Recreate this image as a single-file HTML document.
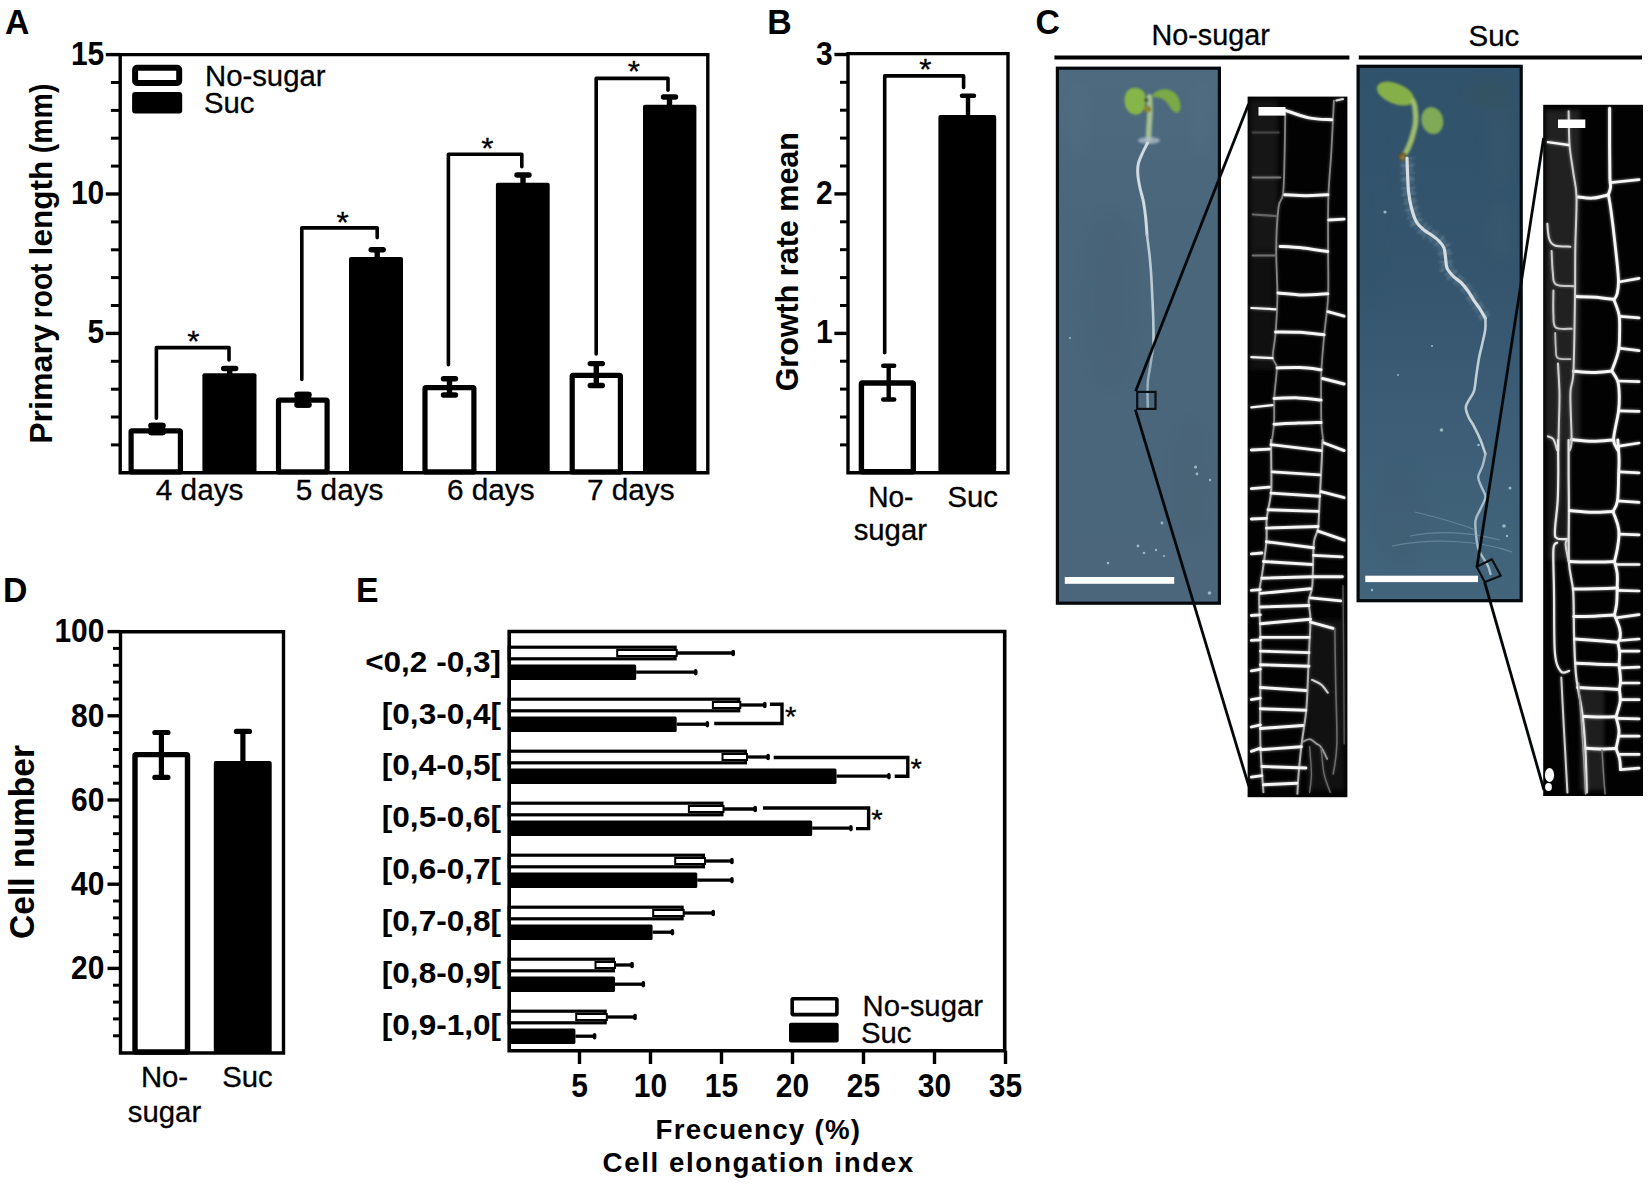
<!DOCTYPE html>
<html lang="en"><head><meta charset="utf-8"><title>Figure</title>
<style>html,body{margin:0;padding:0;background:#fff}svg{display:block}text{font-family:'Liberation Sans', Arial, Helvetica, sans-serif;fill:#000}text.r{stroke:#000;stroke-width:0.3px}</style>
</head><body>
<svg width="1650" height="1185" viewBox="0 0 1650 1185">
<defs>
<filter id="soft" x="-5%" y="-5%" width="110%" height="110%"><feGaussianBlur stdDeviation="0.55"/></filter>
<filter id="soft2" x="-10%" y="-10%" width="120%" height="120%"><feGaussianBlur stdDeviation="1.3"/></filter>
<filter id="soft3" x="-20%" y="-20%" width="140%" height="140%"><feGaussianBlur stdDeviation="2.2"/></filter>
<filter id="glow" x="-20%" y="-5%" width="140%" height="110%"><feGaussianBlur stdDeviation="1.6"/></filter>
<filter id="soft6" x="-30%" y="-30%" width="160%" height="160%"><feGaussianBlur stdDeviation="6"/></filter>
<linearGradient id="bg1" x1="0" y1="0" x2="0" y2="1"><stop offset="0" stop-color="#4d6a7f"/><stop offset="0.3" stop-color="#4a667b"/><stop offset="1" stop-color="#4b667a"/></linearGradient>
<linearGradient id="bg2" x1="0" y1="0" x2="0" y2="1"><stop offset="0" stop-color="#31526b"/><stop offset="0.4" stop-color="#34556d"/><stop offset="0.65" stop-color="#3c5d75"/><stop offset="1" stop-color="#43657c"/></linearGradient>
<clipPath id="cp1"><rect x="1057" y="68" width="163" height="535"/></clipPath>
<clipPath id="cp2"><rect x="1358" y="66" width="164" height="535"/></clipPath>
<clipPath id="cm1"><rect x="1248" y="97" width="99" height="700"/></clipPath>
<clipPath id="cm2"><rect x="1543.5" y="105" width="99.5" height="691"/></clipPath>
</defs>
<rect x="0" y="0" width="1650" height="1185" fill="#fff"/>
<text transform="translate(5.0,33.8) scale(0.95,1)" font-size="35.6" font-weight="bold">A</text>
<text transform="translate(767.3,33.8) scale(0.95,1)" font-size="35.6" font-weight="bold">B</text>
<text transform="translate(1035.4,33.8) scale(0.95,1)" font-size="35.6" font-weight="bold">C</text>
<text transform="translate(3,602) scale(0.95,1)" font-size="35.6" font-weight="bold">D</text>
<text transform="translate(355.9,602) scale(0.95,1)" font-size="35.6" font-weight="bold">E</text>
<g id="panelA">
<rect x="131.1" y="430.8" width="49.3" height="41.1" fill="#fff" stroke="#000" stroke-width="5.2" rx="1"/>
<rect x="202.4" y="373.3" width="54.1" height="99.5" fill="#000" rx="2"/>
<rect x="278.5" y="400.1" width="48.6" height="71.8" fill="#fff" stroke="#000" stroke-width="5.2" rx="1"/>
<rect x="349.0" y="257.0" width="54.0" height="215.8" fill="#000" rx="2"/>
<rect x="425.0" y="387.6" width="48.9" height="84.3" fill="#fff" stroke="#000" stroke-width="5.2" rx="1"/>
<rect x="495.9" y="182.8" width="53.8" height="290.0" fill="#000" rx="2"/>
<rect x="572.2" y="375.3" width="48.2" height="96.6" fill="#fff" stroke="#000" stroke-width="5.2" rx="1"/>
<rect x="643.0" y="104.8" width="53.4" height="368.0" fill="#000" rx="2"/>
<line x1="157.0" y1="425.5" x2="157.0" y2="432.5" stroke="#000" stroke-width="5.4" stroke-linecap="butt"/>
<line x1="151.0" y1="425.5" x2="163.0" y2="425.5" stroke="#000" stroke-width="5.4" stroke-linecap="round"/>
<line x1="151.0" y1="432.5" x2="163.0" y2="432.5" stroke="#000" stroke-width="5.4" stroke-linecap="round"/>
<rect x="148.7" y="422.8" width="16.6" height="12.4" fill="#000" rx="3"/>
<line x1="229.7" y1="368.5" x2="229.7" y2="376.0" stroke="#000" stroke-width="5.4" stroke-linecap="butt"/>
<line x1="223.7" y1="368.5" x2="235.7" y2="368.5" stroke="#000" stroke-width="5.4" stroke-linecap="round"/>
<line x1="303.0" y1="394.5" x2="303.0" y2="405.0" stroke="#000" stroke-width="5.4" stroke-linecap="butt"/>
<line x1="297.0" y1="394.5" x2="309.0" y2="394.5" stroke="#000" stroke-width="5.4" stroke-linecap="round"/>
<line x1="297.0" y1="405.0" x2="309.0" y2="405.0" stroke="#000" stroke-width="5.4" stroke-linecap="round"/>
<rect x="294.7" y="391.8" width="16.6" height="15.9" fill="#000" rx="3.5"/>
<line x1="377.2" y1="249.7" x2="377.2" y2="259.0" stroke="#000" stroke-width="5.4" stroke-linecap="butt"/>
<line x1="371.2" y1="249.7" x2="383.2" y2="249.7" stroke="#000" stroke-width="5.4" stroke-linecap="round"/>
<line x1="449.5" y1="378.7" x2="449.5" y2="395.0" stroke="#000" stroke-width="5.4" stroke-linecap="butt"/>
<line x1="443.5" y1="378.7" x2="455.5" y2="378.7" stroke="#000" stroke-width="5.4" stroke-linecap="round"/>
<line x1="443.5" y1="395.0" x2="455.5" y2="395.0" stroke="#000" stroke-width="5.4" stroke-linecap="round"/>
<line x1="523.0" y1="175.0" x2="523.0" y2="184.0" stroke="#000" stroke-width="5.4" stroke-linecap="butt"/>
<line x1="517.0" y1="175.0" x2="529.0" y2="175.0" stroke="#000" stroke-width="5.4" stroke-linecap="round"/>
<line x1="596.3" y1="363.6" x2="596.3" y2="385.5" stroke="#000" stroke-width="5.4" stroke-linecap="butt"/>
<line x1="590.3" y1="363.6" x2="602.3" y2="363.6" stroke="#000" stroke-width="5.4" stroke-linecap="round"/>
<line x1="590.3" y1="385.5" x2="602.3" y2="385.5" stroke="#000" stroke-width="5.4" stroke-linecap="round"/>
<line x1="669.5" y1="97.0" x2="669.5" y2="107.0" stroke="#000" stroke-width="5.4" stroke-linecap="butt"/>
<line x1="663.5" y1="97.0" x2="675.5" y2="97.0" stroke="#000" stroke-width="5.4" stroke-linecap="round"/>
<path d="M120.2,54.6 H707.8 V472.8 H120.2 Z" fill="none" stroke="#000" stroke-width="3.4" stroke-linejoin="miter"/>
<line x1="110.9" y1="444.9" x2="120.2" y2="444.9" stroke="#000" stroke-width="3.0" stroke-linecap="butt"/>
<line x1="110.9" y1="417.0" x2="120.2" y2="417.0" stroke="#000" stroke-width="3.0" stroke-linecap="butt"/>
<line x1="110.9" y1="389.2" x2="120.2" y2="389.2" stroke="#000" stroke-width="3.0" stroke-linecap="butt"/>
<line x1="110.9" y1="361.3" x2="120.2" y2="361.3" stroke="#000" stroke-width="3.0" stroke-linecap="butt"/>
<line x1="105.8" y1="333.4" x2="120.2" y2="333.4" stroke="#000" stroke-width="3.4" stroke-linecap="butt"/>
<line x1="110.9" y1="305.5" x2="120.2" y2="305.5" stroke="#000" stroke-width="3.0" stroke-linecap="butt"/>
<line x1="110.9" y1="277.6" x2="120.2" y2="277.6" stroke="#000" stroke-width="3.0" stroke-linecap="butt"/>
<line x1="110.9" y1="249.8" x2="120.2" y2="249.8" stroke="#000" stroke-width="3.0" stroke-linecap="butt"/>
<line x1="110.9" y1="221.9" x2="120.2" y2="221.9" stroke="#000" stroke-width="3.0" stroke-linecap="butt"/>
<line x1="105.8" y1="194.0" x2="120.2" y2="194.0" stroke="#000" stroke-width="3.4" stroke-linecap="butt"/>
<line x1="110.9" y1="166.1" x2="120.2" y2="166.1" stroke="#000" stroke-width="3.0" stroke-linecap="butt"/>
<line x1="110.9" y1="138.2" x2="120.2" y2="138.2" stroke="#000" stroke-width="3.0" stroke-linecap="butt"/>
<line x1="110.9" y1="110.4" x2="120.2" y2="110.4" stroke="#000" stroke-width="3.0" stroke-linecap="butt"/>
<line x1="110.9" y1="82.5" x2="120.2" y2="82.5" stroke="#000" stroke-width="3.0" stroke-linecap="butt"/>
<line x1="105.8" y1="54.6" x2="120.2" y2="54.6" stroke="#000" stroke-width="3.4" stroke-linecap="butt"/>
<text transform="translate(104.2,64.6) scale(0.924,1)" font-size="32.4" text-anchor="end" font-weight="bold">15</text>
<text transform="translate(104.2,204.0) scale(0.924,1)" font-size="32.4" text-anchor="end" font-weight="bold">10</text>
<text transform="translate(104.2,343.4) scale(0.924,1)" font-size="32.4" text-anchor="end" font-weight="bold">5</text>
<path d="M156.4,418.2 V347.6 H229.0 V360.0" fill="none" stroke="#000" stroke-width="3.6" stroke-linejoin="round" stroke-linecap="round"/>
<path d="M301.8,379.4 V227.9 H377.2 V237.6" fill="none" stroke="#000" stroke-width="3.6" stroke-linejoin="round" stroke-linecap="round"/>
<path d="M448.4,364.8 V154.2 H521.8 V166.7" fill="none" stroke="#000" stroke-width="3.6" stroke-linejoin="round" stroke-linecap="round"/>
<path d="M596.2,354.0 V78.4 H668.0 V90.3" fill="none" stroke="#000" stroke-width="3.6" stroke-linejoin="round" stroke-linecap="round"/>
<text transform="translate(193.4,351.0) scale(1.05,1)" font-size="30" text-anchor="middle" class="r">*</text>
<text transform="translate(342.7,231.5) scale(1.05,1)" font-size="30" text-anchor="middle" class="r">*</text>
<text transform="translate(487.3,158.0) scale(1.05,1)" font-size="30" text-anchor="middle" class="r">*</text>
<text transform="translate(633.9,81.0) scale(1.05,1)" font-size="30" text-anchor="middle" class="r">*</text>
<rect x="135.1" y="67.8" width="44.1" height="15.2" fill="#fff" stroke="#000" stroke-width="6" rx="2"/>
<rect x="132.1" y="91.9" width="50.1" height="21.6" fill="#000" rx="3"/>
<text transform="translate(205.0,85.9) scale(0.99,1)" font-size="29.6" text-anchor="start" class="r">No-sugar</text>
<text transform="translate(204.0,113.0) scale(0.99,1)" font-size="29.6" text-anchor="start" class="r">Suc</text>
<text transform="translate(199.6,499.6) scale(1.005,1)" font-size="29.6" text-anchor="middle" class="r">4 days</text>
<text transform="translate(339.6,499.6) scale(1.005,1)" font-size="29.6" text-anchor="middle" class="r">5 days</text>
<text transform="translate(490.8,499.6) scale(1.005,1)" font-size="29.6" text-anchor="middle" class="r">6 days</text>
<text transform="translate(630.8,499.6) scale(1.005,1)" font-size="29.6" text-anchor="middle" class="r">7 days</text>
<text transform="translate(52.3,443.8) scale(1.06,1) rotate(-90)" font-size="30.2" font-weight="bold" textLength="119.6" lengthAdjust="spacingAndGlyphs">Primary</text>
<text transform="translate(52.3,318.2) scale(1.06,1) rotate(-90)" font-size="30.2" font-weight="bold" textLength="54.7" lengthAdjust="spacingAndGlyphs">root</text>
<text transform="translate(52.3,255.4) scale(1.06,1) rotate(-90)" font-size="30.2" font-weight="bold" textLength="94.8" lengthAdjust="spacingAndGlyphs">length</text>
<text transform="translate(52.3,153.2) scale(1.06,1) rotate(-90)" font-size="30.2" font-weight="bold" textLength="69.6" lengthAdjust="spacingAndGlyphs">(mm)</text>
</g>
<g id="panelB">
<rect x="861.4" y="383.0" width="51.9" height="88.8" fill="#fff" stroke="#000" stroke-width="5.4" rx="1"/>
<rect x="938.4" y="115.0" width="57.8" height="357.8" fill="#000" rx="2"/>
<line x1="888.7" y1="365.7" x2="888.7" y2="399.5" stroke="#000" stroke-width="4.4" stroke-linecap="butt"/>
<line x1="883.2" y1="365.7" x2="894.2" y2="365.7" stroke="#000" stroke-width="4.4" stroke-linecap="round"/>
<line x1="883.2" y1="399.5" x2="894.2" y2="399.5" stroke="#000" stroke-width="4.4" stroke-linecap="round"/>
<line x1="968.0" y1="95.7" x2="968.0" y2="117.0" stroke="#000" stroke-width="4.4" stroke-linecap="butt"/>
<line x1="962.0" y1="95.7" x2="974.0" y2="95.7" stroke="#000" stroke-width="4.4" stroke-linecap="round"/>
<path d="M848.0,53.6 H1008.0 V472.8 H848.0 Z" fill="none" stroke="#000" stroke-width="3.4"/>
<line x1="840.0" y1="444.9" x2="848.0" y2="444.9" stroke="#000" stroke-width="3.0" stroke-linecap="butt"/>
<line x1="840.0" y1="417.0" x2="848.0" y2="417.0" stroke="#000" stroke-width="3.0" stroke-linecap="butt"/>
<line x1="840.0" y1="389.1" x2="848.0" y2="389.1" stroke="#000" stroke-width="3.0" stroke-linecap="butt"/>
<line x1="840.0" y1="361.2" x2="848.0" y2="361.2" stroke="#000" stroke-width="3.0" stroke-linecap="butt"/>
<line x1="834.4" y1="333.4" x2="848.0" y2="333.4" stroke="#000" stroke-width="3.4" stroke-linecap="butt"/>
<line x1="840.0" y1="305.5" x2="848.0" y2="305.5" stroke="#000" stroke-width="3.0" stroke-linecap="butt"/>
<line x1="840.0" y1="277.6" x2="848.0" y2="277.6" stroke="#000" stroke-width="3.0" stroke-linecap="butt"/>
<line x1="840.0" y1="249.7" x2="848.0" y2="249.7" stroke="#000" stroke-width="3.0" stroke-linecap="butt"/>
<line x1="840.0" y1="221.8" x2="848.0" y2="221.8" stroke="#000" stroke-width="3.0" stroke-linecap="butt"/>
<line x1="834.4" y1="193.9" x2="848.0" y2="193.9" stroke="#000" stroke-width="3.4" stroke-linecap="butt"/>
<line x1="840.0" y1="166.0" x2="848.0" y2="166.0" stroke="#000" stroke-width="3.0" stroke-linecap="butt"/>
<line x1="840.0" y1="138.1" x2="848.0" y2="138.1" stroke="#000" stroke-width="3.0" stroke-linecap="butt"/>
<line x1="840.0" y1="110.2" x2="848.0" y2="110.2" stroke="#000" stroke-width="3.0" stroke-linecap="butt"/>
<line x1="840.0" y1="82.3" x2="848.0" y2="82.3" stroke="#000" stroke-width="3.0" stroke-linecap="butt"/>
<line x1="834.4" y1="54.5" x2="848.0" y2="54.5" stroke="#000" stroke-width="3.4" stroke-linecap="butt"/>
<text transform="translate(832.7,64.5) scale(0.924,1)" font-size="32.4" text-anchor="end" font-weight="bold">3</text>
<text transform="translate(832.7,203.9) scale(0.924,1)" font-size="32.4" text-anchor="end" font-weight="bold">2</text>
<text transform="translate(832.7,343.4) scale(0.924,1)" font-size="32.4" text-anchor="end" font-weight="bold">1</text>
<path d="M884.7,352.7 V75.9 H963.6 V87.4" fill="none" stroke="#000" stroke-width="3.6" stroke-linejoin="round" stroke-linecap="round"/>
<text transform="translate(925.4,78.5) scale(1.05,1)" font-size="30" text-anchor="middle" class="r">*</text>
<text transform="translate(890.8,507.0) scale(0.95,1)" font-size="29.6" text-anchor="middle" class="r">No-</text>
<text transform="translate(890.3,540.3) scale(0.99,1)" font-size="29.6" text-anchor="middle" class="r">sugar</text>
<text transform="translate(972.7,507.0) scale(0.99,1)" font-size="29.6" text-anchor="middle" class="r">Suc</text>
<text transform="translate(797.6,261.7) scale(1.0,1) rotate(-90)" font-size="30.5" text-anchor="middle" font-weight="bold">Growth rate mean</text>
</g>
<g id="panelD">
<rect x="135.0" y="754.6" width="52.5" height="297.4" fill="#fff" stroke="#000" stroke-width="5.4" rx="1"/>
<rect x="213.8" y="760.9" width="57.9" height="292.1" fill="#000" rx="2"/>
<line x1="161.4" y1="732.5" x2="161.4" y2="777.4" stroke="#000" stroke-width="5.2" stroke-linecap="butt"/>
<line x1="154.9" y1="732.5" x2="167.9" y2="732.5" stroke="#000" stroke-width="5.2" stroke-linecap="round"/>
<line x1="154.9" y1="777.4" x2="167.9" y2="777.4" stroke="#000" stroke-width="5.2" stroke-linecap="round"/>
<line x1="242.9" y1="731.4" x2="242.9" y2="763.0" stroke="#000" stroke-width="5.2" stroke-linecap="butt"/>
<line x1="236.4" y1="731.4" x2="249.4" y2="731.4" stroke="#000" stroke-width="5.2" stroke-linecap="round"/>
<path d="M120.5,631.8 H283.5 V1053.0 H120.5 Z" fill="none" stroke="#000" stroke-width="3.4"/>
<line x1="113.0" y1="1035.8" x2="120.5" y2="1035.8" stroke="#000" stroke-width="3.0" stroke-linecap="butt"/>
<line x1="113.0" y1="1018.9" x2="120.5" y2="1018.9" stroke="#000" stroke-width="3.0" stroke-linecap="butt"/>
<line x1="113.0" y1="1002.1" x2="120.5" y2="1002.1" stroke="#000" stroke-width="3.0" stroke-linecap="butt"/>
<line x1="113.0" y1="985.2" x2="120.5" y2="985.2" stroke="#000" stroke-width="3.0" stroke-linecap="butt"/>
<line x1="107.5" y1="968.4" x2="120.5" y2="968.4" stroke="#000" stroke-width="3.4" stroke-linecap="butt"/>
<line x1="113.0" y1="951.6" x2="120.5" y2="951.6" stroke="#000" stroke-width="3.0" stroke-linecap="butt"/>
<line x1="113.0" y1="934.7" x2="120.5" y2="934.7" stroke="#000" stroke-width="3.0" stroke-linecap="butt"/>
<line x1="113.0" y1="917.9" x2="120.5" y2="917.9" stroke="#000" stroke-width="3.0" stroke-linecap="butt"/>
<line x1="113.0" y1="901.0" x2="120.5" y2="901.0" stroke="#000" stroke-width="3.0" stroke-linecap="butt"/>
<line x1="107.5" y1="884.2" x2="120.5" y2="884.2" stroke="#000" stroke-width="3.4" stroke-linecap="butt"/>
<line x1="113.0" y1="867.4" x2="120.5" y2="867.4" stroke="#000" stroke-width="3.0" stroke-linecap="butt"/>
<line x1="113.0" y1="850.5" x2="120.5" y2="850.5" stroke="#000" stroke-width="3.0" stroke-linecap="butt"/>
<line x1="113.0" y1="833.7" x2="120.5" y2="833.7" stroke="#000" stroke-width="3.0" stroke-linecap="butt"/>
<line x1="113.0" y1="816.8" x2="120.5" y2="816.8" stroke="#000" stroke-width="3.0" stroke-linecap="butt"/>
<line x1="107.5" y1="800.0" x2="120.5" y2="800.0" stroke="#000" stroke-width="3.4" stroke-linecap="butt"/>
<line x1="113.0" y1="783.2" x2="120.5" y2="783.2" stroke="#000" stroke-width="3.0" stroke-linecap="butt"/>
<line x1="113.0" y1="766.3" x2="120.5" y2="766.3" stroke="#000" stroke-width="3.0" stroke-linecap="butt"/>
<line x1="113.0" y1="749.5" x2="120.5" y2="749.5" stroke="#000" stroke-width="3.0" stroke-linecap="butt"/>
<line x1="113.0" y1="732.6" x2="120.5" y2="732.6" stroke="#000" stroke-width="3.0" stroke-linecap="butt"/>
<line x1="107.5" y1="715.8" x2="120.5" y2="715.8" stroke="#000" stroke-width="3.4" stroke-linecap="butt"/>
<line x1="113.0" y1="699.0" x2="120.5" y2="699.0" stroke="#000" stroke-width="3.0" stroke-linecap="butt"/>
<line x1="113.0" y1="682.1" x2="120.5" y2="682.1" stroke="#000" stroke-width="3.0" stroke-linecap="butt"/>
<line x1="113.0" y1="665.3" x2="120.5" y2="665.3" stroke="#000" stroke-width="3.0" stroke-linecap="butt"/>
<line x1="113.0" y1="648.4" x2="120.5" y2="648.4" stroke="#000" stroke-width="3.0" stroke-linecap="butt"/>
<line x1="107.5" y1="631.6" x2="120.5" y2="631.6" stroke="#000" stroke-width="3.4" stroke-linecap="butt"/>
<text transform="translate(104.4,642.4) scale(0.924,1)" font-size="32.4" text-anchor="end" font-weight="bold">100</text>
<text transform="translate(104.4,726.6) scale(0.924,1)" font-size="32.4" text-anchor="end" font-weight="bold">80</text>
<text transform="translate(104.4,810.8) scale(0.924,1)" font-size="32.4" text-anchor="end" font-weight="bold">60</text>
<text transform="translate(104.4,895.0) scale(0.924,1)" font-size="32.4" text-anchor="end" font-weight="bold">40</text>
<text transform="translate(104.4,979.2) scale(0.924,1)" font-size="32.4" text-anchor="end" font-weight="bold">20</text>
<text transform="translate(164.5,1087.4) scale(0.99,1)" font-size="29.6" text-anchor="middle" class="r">No-</text>
<text transform="translate(164.5,1122.0) scale(0.99,1)" font-size="29.6" text-anchor="middle" class="r">sugar</text>
<text transform="translate(247.5,1087.4) scale(0.99,1)" font-size="29.6" text-anchor="middle" class="r">Suc</text>
<text transform="translate(34.4,842.0) scale(1.06,1) rotate(-90)" font-size="33.6" text-anchor="middle" font-weight="bold">Cell number</text>
</g>
<g id="panelE">
<rect x="509.2" y="647.2" width="165.9" height="11.6" fill="#fff" stroke="#000" stroke-width="3.2"/>
<rect x="617.2" y="650.0" width="59.5" height="6.0" fill="#fff" stroke="#000" stroke-width="2.0"/>
<line x1="676.7" y1="653.0" x2="733.2" y2="653.0" stroke="#000" stroke-width="3.3" stroke-linecap="butt"/>
<line x1="733.2" y1="651.6" x2="733.2" y2="654.4" stroke="#000" stroke-width="3.6" stroke-linecap="round"/>
<rect x="509.2" y="664.4" width="127.0" height="15.7" fill="#000" rx="1.5"/>
<line x1="636.2" y1="672.2" x2="695.7" y2="672.2" stroke="#000" stroke-width="3.3" stroke-linecap="butt"/>
<line x1="695.7" y1="670.9" x2="695.7" y2="673.6" stroke="#000" stroke-width="3.6" stroke-linecap="round"/>
<text transform="translate(501.0,671.5) scale(1.103,1)" font-size="28.6" text-anchor="end" font-weight="bold">&lt;0,2 -0,3]</text>
<rect x="509.2" y="699.2" width="229.5" height="11.6" fill="#fff" stroke="#000" stroke-width="3.2"/>
<rect x="712.9" y="702.0" width="27.4" height="6.0" fill="#fff" stroke="#000" stroke-width="2.0"/>
<line x1="740.3" y1="705.0" x2="764.8" y2="705.0" stroke="#000" stroke-width="3.3" stroke-linecap="butt"/>
<line x1="764.8" y1="703.6" x2="764.8" y2="706.4" stroke="#000" stroke-width="3.6" stroke-linecap="round"/>
<rect x="509.2" y="716.4" width="167.5" height="15.7" fill="#000" rx="1.5"/>
<line x1="676.7" y1="724.2" x2="707.3" y2="724.2" stroke="#000" stroke-width="3.3" stroke-linecap="butt"/>
<line x1="707.3" y1="722.9" x2="707.3" y2="725.6" stroke="#000" stroke-width="3.6" stroke-linecap="round"/>
<text transform="translate(501.0,723.5) scale(1.103,1)" font-size="28.6" text-anchor="end" font-weight="bold">[0,3-0,4[</text>
<rect x="509.2" y="751.2" width="236.2" height="11.6" fill="#fff" stroke="#000" stroke-width="3.2"/>
<rect x="722.5" y="754.0" width="24.5" height="6.0" fill="#fff" stroke="#000" stroke-width="2.0"/>
<line x1="747.0" y1="757.0" x2="768.1" y2="757.0" stroke="#000" stroke-width="3.3" stroke-linecap="butt"/>
<line x1="768.1" y1="755.6" x2="768.1" y2="758.4" stroke="#000" stroke-width="3.6" stroke-linecap="round"/>
<rect x="509.2" y="768.4" width="327.3" height="15.7" fill="#000" rx="1.5"/>
<line x1="836.5" y1="776.2" x2="888.9" y2="776.2" stroke="#000" stroke-width="3.3" stroke-linecap="butt"/>
<line x1="888.9" y1="774.9" x2="888.9" y2="777.6" stroke="#000" stroke-width="3.6" stroke-linecap="round"/>
<text transform="translate(501.0,775.4) scale(1.103,1)" font-size="28.6" text-anchor="end" font-weight="bold">[0,4-0,5[</text>
<rect x="509.2" y="803.2" width="212.7" height="11.6" fill="#fff" stroke="#000" stroke-width="3.2"/>
<rect x="688.9" y="806.0" width="34.6" height="6.0" fill="#fff" stroke="#000" stroke-width="2.0"/>
<line x1="723.5" y1="809.0" x2="755.2" y2="809.0" stroke="#000" stroke-width="3.3" stroke-linecap="butt"/>
<line x1="755.2" y1="807.6" x2="755.2" y2="810.4" stroke="#000" stroke-width="3.6" stroke-linecap="round"/>
<rect x="509.2" y="820.4" width="303.0" height="15.7" fill="#000" rx="1.5"/>
<line x1="812.2" y1="828.2" x2="850.9" y2="828.2" stroke="#000" stroke-width="3.3" stroke-linecap="butt"/>
<line x1="850.9" y1="826.9" x2="850.9" y2="829.6" stroke="#000" stroke-width="3.6" stroke-linecap="round"/>
<text transform="translate(501.0,827.4) scale(1.103,1)" font-size="28.6" text-anchor="end" font-weight="bold">[0,5-0,6[</text>
<rect x="509.2" y="855.2" width="194.2" height="11.6" fill="#fff" stroke="#000" stroke-width="3.2"/>
<rect x="675.2" y="858.0" width="29.8" height="6.0" fill="#fff" stroke="#000" stroke-width="2.0"/>
<line x1="705.0" y1="861.0" x2="731.9" y2="861.0" stroke="#000" stroke-width="3.3" stroke-linecap="butt"/>
<line x1="731.9" y1="859.6" x2="731.9" y2="862.4" stroke="#000" stroke-width="3.6" stroke-linecap="round"/>
<rect x="509.2" y="872.4" width="188.1" height="15.7" fill="#000" rx="1.5"/>
<line x1="697.3" y1="880.2" x2="731.9" y2="880.2" stroke="#000" stroke-width="3.3" stroke-linecap="butt"/>
<line x1="731.9" y1="878.9" x2="731.9" y2="881.6" stroke="#000" stroke-width="3.6" stroke-linecap="round"/>
<text transform="translate(501.0,879.3) scale(1.103,1)" font-size="28.6" text-anchor="end" font-weight="bold">[0,6-0,7[</text>
<rect x="509.2" y="907.2" width="172.9" height="11.6" fill="#fff" stroke="#000" stroke-width="3.2"/>
<rect x="653.2" y="910.0" width="30.5" height="6.0" fill="#fff" stroke="#000" stroke-width="2.0"/>
<line x1="683.7" y1="913.0" x2="713.2" y2="913.0" stroke="#000" stroke-width="3.3" stroke-linecap="butt"/>
<line x1="713.2" y1="911.6" x2="713.2" y2="914.4" stroke="#000" stroke-width="3.6" stroke-linecap="round"/>
<rect x="509.2" y="924.4" width="143.4" height="15.7" fill="#000" rx="1.5"/>
<line x1="652.6" y1="932.2" x2="672.4" y2="932.2" stroke="#000" stroke-width="3.3" stroke-linecap="butt"/>
<line x1="672.4" y1="930.9" x2="672.4" y2="933.6" stroke="#000" stroke-width="3.6" stroke-linecap="round"/>
<text transform="translate(501.0,931.2) scale(1.103,1)" font-size="28.6" text-anchor="end" font-weight="bold">[0,7-0,8[</text>
<rect x="509.2" y="959.2" width="104.2" height="11.6" fill="#fff" stroke="#000" stroke-width="3.2"/>
<rect x="595.5" y="962.0" width="19.5" height="6.0" fill="#fff" stroke="#000" stroke-width="2.0"/>
<line x1="615.0" y1="965.0" x2="632.0" y2="965.0" stroke="#000" stroke-width="3.3" stroke-linecap="butt"/>
<line x1="632.0" y1="963.6" x2="632.0" y2="966.4" stroke="#000" stroke-width="3.6" stroke-linecap="round"/>
<rect x="509.2" y="976.4" width="105.8" height="15.7" fill="#000" rx="1.5"/>
<line x1="615.0" y1="984.2" x2="643.3" y2="984.2" stroke="#000" stroke-width="3.3" stroke-linecap="butt"/>
<line x1="643.3" y1="982.9" x2="643.3" y2="985.6" stroke="#000" stroke-width="3.6" stroke-linecap="round"/>
<text transform="translate(501.0,983.2) scale(1.103,1)" font-size="28.6" text-anchor="end" font-weight="bold">[0,8-0,9[</text>
<rect x="509.2" y="1011.2" width="96.0" height="11.6" fill="#fff" stroke="#000" stroke-width="3.2"/>
<rect x="576.2" y="1014.0" width="30.6" height="6.0" fill="#fff" stroke="#000" stroke-width="2.0"/>
<line x1="606.8" y1="1017.0" x2="635.0" y2="1017.0" stroke="#000" stroke-width="3.3" stroke-linecap="butt"/>
<line x1="635.0" y1="1015.6" x2="635.0" y2="1018.4" stroke="#000" stroke-width="3.6" stroke-linecap="round"/>
<rect x="509.2" y="1028.4" width="66.2" height="15.7" fill="#000" rx="1.5"/>
<line x1="575.4" y1="1036.2" x2="594.6" y2="1036.2" stroke="#000" stroke-width="3.3" stroke-linecap="butt"/>
<line x1="594.6" y1="1034.8" x2="594.6" y2="1037.7" stroke="#000" stroke-width="3.6" stroke-linecap="round"/>
<text transform="translate(501.0,1035.2) scale(1.103,1)" font-size="28.6" text-anchor="end" font-weight="bold">[0,9-1,0[</text>
<path d="M769.9,704.2 H782.0 V723.5 H714.2" fill="none" stroke="#000" stroke-width="3.4" stroke-linejoin="miter"/>
<path d="M773.7,757.5 H907.8 V776.3 H894.7" fill="none" stroke="#000" stroke-width="3.4" stroke-linejoin="miter"/>
<path d="M763.0,808.0 H868.6 V828.6 H856.0" fill="none" stroke="#000" stroke-width="3.4" stroke-linejoin="miter"/>
<text transform="translate(790.8,725.5) scale(1.05,1)" font-size="28" text-anchor="middle" class="r">*</text>
<text transform="translate(916.1,778.0) scale(1.05,1)" font-size="28" text-anchor="middle" class="r">*</text>
<text transform="translate(876.9,829.0) scale(1.05,1)" font-size="28" text-anchor="middle" class="r">*</text>
<path d="M509.2,631.5 H1004.7 V1050.7 H509.2 Z" fill="none" stroke="#000" stroke-width="3.6"/>
<line x1="579.5" y1="1050.7" x2="579.5" y2="1064.0" stroke="#000" stroke-width="3.4" stroke-linecap="butt"/>
<text transform="translate(579.5,1097.0) scale(0.924,1)" font-size="32.4" text-anchor="middle" font-weight="bold">5</text>
<line x1="650.5" y1="1050.7" x2="650.5" y2="1064.0" stroke="#000" stroke-width="3.4" stroke-linecap="butt"/>
<text transform="translate(650.5,1097.0) scale(0.924,1)" font-size="32.4" text-anchor="middle" font-weight="bold">10</text>
<line x1="721.5" y1="1050.7" x2="721.5" y2="1064.0" stroke="#000" stroke-width="3.4" stroke-linecap="butt"/>
<text transform="translate(721.5,1097.0) scale(0.924,1)" font-size="32.4" text-anchor="middle" font-weight="bold">15</text>
<line x1="792.5" y1="1050.7" x2="792.5" y2="1064.0" stroke="#000" stroke-width="3.4" stroke-linecap="butt"/>
<text transform="translate(792.5,1097.0) scale(0.924,1)" font-size="32.4" text-anchor="middle" font-weight="bold">20</text>
<line x1="863.5" y1="1050.7" x2="863.5" y2="1064.0" stroke="#000" stroke-width="3.4" stroke-linecap="butt"/>
<text transform="translate(863.5,1097.0) scale(0.924,1)" font-size="32.4" text-anchor="middle" font-weight="bold">25</text>
<line x1="934.5" y1="1050.7" x2="934.5" y2="1064.0" stroke="#000" stroke-width="3.4" stroke-linecap="butt"/>
<text transform="translate(934.5,1097.0) scale(0.924,1)" font-size="32.4" text-anchor="middle" font-weight="bold">30</text>
<line x1="1005.5" y1="1050.7" x2="1005.5" y2="1064.0" stroke="#000" stroke-width="3.4" stroke-linecap="butt"/>
<text transform="translate(1005.5,1097.0) scale(0.924,1)" font-size="32.4" text-anchor="middle" font-weight="bold">35</text>
<rect x="792.2" y="998.8" width="44.7" height="15.8" fill="#fff" stroke="#000" stroke-width="3.6" rx="1"/>
<rect x="789.0" y="1022.8" width="49.7" height="19.8" fill="#000" rx="2"/>
<text transform="translate(862.5,1015.9) scale(0.99,1)" font-size="29.6" text-anchor="start" class="r">No-sugar</text>
<text transform="translate(861.0,1043.4) scale(0.99,1)" font-size="29.6" text-anchor="start" class="r">Suc</text>
<text transform="translate(655.6,1138.9) scale(1.0,1)" font-size="27.7" text-anchor="start" font-weight="bold" textLength="204.5" lengthAdjust="spacing">Frecuency (%)</text>
<text transform="translate(602.6,1172.0) scale(1.0,1)" font-size="27.7" text-anchor="start" font-weight="bold" textLength="310.5" lengthAdjust="spacing">Cell elongation index</text>
</g>
<g id="panelC">
<text transform="translate(1151.5,45.3) scale(0.965,1)" font-size="29.8" text-anchor="start" class="r">No-sugar</text>
<text transform="translate(1468.5,45.8) scale(0.99,1)" font-size="29.8" text-anchor="start" class="r">Suc</text>
<line x1="1054.4" y1="57.5" x2="1349.4" y2="57.5" stroke="#000" stroke-width="4.2" stroke-linecap="butt"/>
<line x1="1358.8" y1="57.5" x2="1642.0" y2="57.5" stroke="#000" stroke-width="4.2" stroke-linecap="butt"/>
<rect x="1055.8" y="66.6" width="165.2" height="538.2" fill="#05090c"/>
<rect x="1059.0" y="69.8" width="158.8" height="531.8" fill="url(#bg1)"/>
<g clip-path="url(#cp1)">
<g filter="url(#soft6)" opacity="0.16">
<ellipse cx="1078" cy="120" rx="14" ry="40" fill="#5d7688"/>
<ellipse cx="1200" cy="120" rx="12" ry="40" fill="#5d7688"/>
<ellipse cx="1110" cy="300" rx="30" ry="90" fill="#40586a"/>
<ellipse cx="1190" cy="480" rx="20" ry="60" fill="#3f5669"/>
</g>
<g filter="url(#soft2)">
<path d="M1144,92 C1136,84 1125,88 1124.5,99 C1124,111 1133,118 1141,113 C1146,108 1147,98 1144,92 Z" fill="#86b548"/>
<path d="M1152,96 C1158,87 1172,87 1178,97 C1182,105 1181,112 1177,113 C1172,113 1170,104 1163,99 C1159,97 1155,98 1152,96 Z" fill="#7aa945"/>
<path d="M1149.5,97.0 C1149.6,99.5 1150.1,106.8 1150.0,112.0 C1149.9,117.2 1149.2,123.3 1149.0,128.0 C1148.8,132.7 1148.6,138.0 1148.5,140.0" fill="none" stroke="#a3bf8e" stroke-width="5.6" stroke-linejoin="round" stroke-linecap="round"/>
<circle cx="1146.3" cy="100" r="2" fill="#2b3a2a"/>
<ellipse cx="1147.5" cy="109" rx="3.8" ry="3.2" fill="#8a8630"/>
<ellipse cx="1149" cy="140.5" rx="11" ry="3.4" fill="#aebdcb" opacity="0.75"/>
</g>
<g filter="url(#soft)">
<path d="M1147.5,143.0 C1146.8,144.5 1144.5,148.7 1143.0,152.0 C1141.5,155.3 1139.4,159.3 1138.5,163.0 C1137.6,166.7 1137.5,169.8 1137.8,174.0 C1138.0,178.2 1139.0,183.3 1140.0,188.0 C1141.0,192.7 1142.6,197.3 1143.5,202.0 C1144.4,206.7 1144.9,210.5 1145.5,216.0 C1146.1,221.5 1146.8,231.8 1147.0,235.0" fill="none" stroke="#cfdbe0" stroke-width="3.0" stroke-linejoin="round" stroke-linecap="round"/>
<path d="M1147.0,235.0 C1147.4,238.3 1148.8,248.8 1149.5,255.0 C1150.2,261.2 1150.5,265.3 1151.0,272.0 C1151.5,278.7 1151.8,287.0 1152.2,295.0 C1152.6,303.0 1153.1,311.7 1153.3,320.0 C1153.5,328.3 1153.5,340.8 1153.6,345.0" fill="none" stroke="#bccbd3" stroke-width="2.6" stroke-linejoin="round" stroke-linecap="round"/>
<path d="M1153.6,345.0 C1153.1,348.3 1151.4,359.2 1150.5,365.0 C1149.6,370.8 1148.5,375.5 1148.0,380.0 C1147.5,384.5 1147.5,387.3 1147.5,392.0 C1147.5,396.7 1147.8,405.3 1147.8,408.0" fill="none" stroke="#9db2be" stroke-width="2.4" stroke-linejoin="round" stroke-linecap="round"/>
</g>
<g fill="#9bb6c4" filter="url(#soft)">
<circle cx="1195.5" cy="467" r="1.6"/>
<circle cx="1197" cy="474" r="1.4"/>
<circle cx="1210" cy="480" r="1.2"/>
<circle cx="1162" cy="523" r="1.4"/>
<circle cx="1138" cy="546" r="1.4"/>
<circle cx="1144" cy="553" r="1.3"/>
<circle cx="1156" cy="550" r="1.2"/>
<circle cx="1108" cy="563" r="1.3"/>
<circle cx="1070" cy="338" r="1.0"/>
<circle cx="1209.5" cy="593" r="1.8"/>
<circle cx="1164" cy="556" r="1.1"/>
</g>
</g>
<rect x="1064.8" y="577.0" width="109.4" height="6.8" fill="#fff"/>
<rect x="1137.2" y="391.9" width="18.3" height="17.0" fill="none" stroke="#0b0f12" stroke-width="2.2"/>
<line x1="1135.6" y1="391.2" x2="1248.6" y2="104.0" stroke="#05080a" stroke-width="2.8" stroke-linecap="butt"/>
<line x1="1135.4" y1="409.7" x2="1248.8" y2="786.2" stroke="#05080a" stroke-width="2.8" stroke-linecap="butt"/>
<rect x="1356.5" y="64.7" width="166.3" height="537.6" fill="#05090c"/>
<rect x="1359.7" y="67.9" width="159.9" height="531.2" fill="url(#bg2)"/>
<g clip-path="url(#cp2)">
<g filter="url(#soft6)" opacity="0.3">
<ellipse cx="1500" cy="140" rx="14" ry="50" fill="#3e5a6e"/>
<ellipse cx="1490" cy="95" rx="22" ry="14" fill="#38554f"/>
<ellipse cx="1372" cy="200" rx="8" ry="120" fill="#36546b"/>
<ellipse cx="1500" cy="230" rx="14" ry="30" fill="#415d72"/>
<ellipse cx="1400" cy="520" rx="30" ry="50" fill="#3f5b70"/>
</g>
<g filter="url(#soft2)">
<ellipse cx="1395.4" cy="93.6" rx="19.6" ry="10.2" transform="rotate(22 1395.4 93.6)" fill="#85b04a"/>
<ellipse cx="1432.3" cy="120.6" rx="10.8" ry="13.6" transform="rotate(-12 1432.3 120.6)" fill="#80aa55"/>
<path d="M1413.0,101.0 C1413.3,102.2 1414.6,104.5 1415.0,108.0 C1415.4,111.5 1416.0,117.3 1415.6,122.0 C1415.2,126.7 1413.6,132.0 1412.5,136.0 C1411.4,140.0 1410.1,143.3 1409.0,146.0 C1407.9,148.7 1406.5,151.0 1406.0,152.0" fill="none" stroke="#9dbd6c" stroke-width="5.4" stroke-linejoin="round" stroke-linecap="round"/>
<circle cx="1402.8" cy="156.8" r="4.2" fill="#6a5526"/>
<circle cx="1402.8" cy="156.8" r="1.8" fill="#94803c"/>
</g>
<g filter="url(#soft2)" opacity="0.42">
<path d="M1407.0,158.0 C1407.1,160.8 1407.3,169.3 1407.6,175.0 C1407.9,180.7 1407.9,186.5 1408.6,192.0 C1409.2,197.5 1410.2,203.0 1411.5,208.0 C1412.8,213.0 1414.4,218.3 1416.5,222.0 C1418.6,225.7 1421.5,227.8 1424.0,230.0 C1426.5,232.2 1429.0,233.2 1431.5,235.0 C1434.0,236.8 1436.9,238.8 1439.0,241.0 C1441.1,243.2 1442.9,245.2 1444.0,248.0 C1445.1,250.8 1445.1,254.7 1445.6,258.0 C1446.1,261.3 1445.8,265.0 1447.0,268.0 C1448.2,271.0 1450.6,273.5 1453.0,276.0 C1455.4,278.5 1459.0,280.5 1461.5,283.0 C1464.0,285.5 1465.9,288.1 1468.0,291.0 C1470.1,293.9 1472.0,297.6 1474.0,300.6 C1476.0,303.6 1478.1,306.0 1480.0,309.0 C1481.9,312.0 1484.5,316.8 1485.4,318.4" fill="none" stroke="#a9bcc8" stroke-width="11" stroke-linejoin="round" stroke-linecap="butt" stroke-dasharray="1.4 2.1 0.9 3.2 1.6 1.7"/>
<path d="M1407.0,158.0 C1407.1,160.8 1407.3,169.3 1407.6,175.0 C1407.9,180.7 1407.9,186.5 1408.6,192.0 C1409.2,197.5 1410.2,203.0 1411.5,208.0 C1412.8,213.0 1414.4,218.3 1416.5,222.0 C1418.6,225.7 1421.5,227.8 1424.0,230.0 C1426.5,232.2 1429.0,233.2 1431.5,235.0 C1434.0,236.8 1436.9,238.8 1439.0,241.0 C1441.1,243.2 1442.9,245.2 1444.0,248.0 C1445.1,250.8 1445.1,254.7 1445.6,258.0 C1446.1,261.3 1445.8,265.0 1447.0,268.0 C1448.2,271.0 1452.0,274.7 1453.0,276.0" fill="none" stroke="#a9bcc8" stroke-width="15" stroke-linejoin="round" stroke-linecap="butt" stroke-dasharray="1.0 5.3 1.2 7.1"/>
</g>
<g filter="url(#soft)">
<path d="M1407.0,158.0 C1407.1,160.8 1407.3,169.3 1407.6,175.0 C1407.9,180.7 1407.9,186.5 1408.6,192.0 C1409.2,197.5 1410.2,203.0 1411.5,208.0 C1412.8,213.0 1414.4,218.3 1416.5,222.0 C1418.6,225.7 1421.5,227.8 1424.0,230.0 C1426.5,232.2 1429.0,233.2 1431.5,235.0 C1434.0,236.8 1436.9,238.8 1439.0,241.0 C1441.1,243.2 1442.9,245.2 1444.0,248.0 C1445.1,250.8 1445.1,254.7 1445.6,258.0 C1446.1,261.3 1445.8,265.0 1447.0,268.0 C1448.2,271.0 1450.6,273.5 1453.0,276.0 C1455.4,278.5 1459.0,280.5 1461.5,283.0 C1464.0,285.5 1465.9,288.1 1468.0,291.0 C1470.1,293.9 1472.0,297.6 1474.0,300.6 C1476.0,303.6 1478.1,306.0 1480.0,309.0 C1481.9,312.0 1484.5,316.8 1485.4,318.4" fill="none" stroke="#d3dde2" stroke-width="3.2" stroke-linejoin="round" stroke-linecap="round"/>
<path d="M1485.4,318.4 C1485.4,320.3 1485.8,325.6 1485.2,330.0 C1484.6,334.4 1483.0,340.3 1482.0,345.0 C1481.0,349.7 1479.9,353.0 1479.0,358.0 C1478.1,363.0 1477.2,369.5 1476.4,375.0 C1475.6,380.5 1475.2,386.8 1474.0,391.0 C1472.8,395.2 1470.4,397.3 1469.0,400.0 C1467.6,402.7 1465.9,404.5 1465.8,407.3 C1465.7,410.1 1467.1,413.8 1468.5,417.0 C1469.9,420.2 1472.0,422.5 1474.0,426.3 C1476.0,430.1 1478.6,435.4 1480.5,440.0 C1482.4,444.6 1484.6,451.7 1485.4,454.0" fill="none" stroke="#bfcdd5" stroke-width="2.6" stroke-linejoin="round" stroke-linecap="round"/>
<path d="M1485.4,454.0 C1484.9,456.0 1483.7,462.2 1482.5,466.0 C1481.3,469.8 1478.4,473.5 1478.2,477.0 C1478.0,480.5 1480.3,483.7 1481.5,487.0 C1482.7,490.3 1485.6,493.3 1485.4,497.0 C1485.2,500.7 1482.1,505.2 1480.5,509.0 C1478.9,512.8 1476.3,515.8 1475.6,520.0 C1474.8,524.2 1475.6,529.4 1476.0,534.0 C1476.4,538.6 1477.0,544.1 1478.0,547.8 C1479.0,551.5 1480.3,553.0 1482.0,556.0 C1483.7,559.0 1486.6,563.0 1488.0,566.0 C1489.4,569.0 1490.1,572.7 1490.5,574.0" fill="none" stroke="#a9bcc7" stroke-width="2.4" stroke-linejoin="round" stroke-linecap="round"/>
</g>
<g fill="none" stroke="#7f9fb2" stroke-width="1.2" opacity="0.55" filter="url(#soft)">
<path d="M1410,536 C1440,530 1470,532 1500,540"/>
<path d="M1392,546 C1430,538 1480,540 1512,552"/>
<path d="M1415,512 C1440,518 1460,524 1476,530"/>
</g>
<g fill="#9bb6c4" filter="url(#soft)">
<circle cx="1441.5" cy="430" r="1.8"/>
<circle cx="1478.5" cy="445" r="1.3"/>
<circle cx="1510" cy="488" r="1.5"/>
<circle cx="1504" cy="526" r="1.8"/>
<circle cx="1432" cy="346" r="1.0"/>
<circle cx="1398" cy="375" r="1.0"/>
<circle cx="1385" cy="212" r="1.6"/>
<circle cx="1372" cy="590" r="1.2"/>
<circle cx="1507" cy="536" r="1.2"/>
</g>
</g>
<rect x="1365.3" y="575.7" width="112.7" height="6.4" fill="#fff"/>
<path d="M1476.7,566.8 L1491.9,559.2 L1500.8,575.7 L1484.8,582.0 Z" fill="none" stroke="#0b0f12" stroke-width="2.2" stroke-linejoin="round" stroke-linecap="round"/>
<line x1="1477.0" y1="567.0" x2="1543.6" y2="138.0" stroke="#05080a" stroke-width="2.8" stroke-linecap="butt"/>
<line x1="1484.6" y1="582.0" x2="1544.0" y2="790.0" stroke="#05080a" stroke-width="2.8" stroke-linecap="butt"/>
<rect x="1247.6" y="96.6" width="99.8" height="700.6" fill="#020202"/>
<g clip-path="url(#cm1)">
<g filter="url(#soft3)" opacity="0.35">
<rect x="1250.0" y="100.0" width="28.0" height="150.0" fill="#3a3a3a"/>
<rect x="1250.0" y="250.0" width="24.0" height="120.0" fill="#2a2a2a"/>
<rect x="1308.0" y="620.0" width="36.0" height="170.0" fill="#2e2e2e"/>
</g>
<use href="#walls1" filter="url(#glow)" opacity="0.55"/>
<g id="walls1" filter="url(#soft)">
<path d="M1285.3,111.3 C1285.2,117.8 1285.0,137.1 1284.7,150.7 C1284.3,164.4 1284.2,183.9 1283.1,193.2 C1282.1,202.6 1279.8,197.8 1278.6,206.9 C1277.4,216.0 1276.4,233.0 1276.2,247.9 C1276.0,262.8 1277.5,282.3 1277.4,296.5 C1277.3,310.7 1276.3,322.8 1275.6,332.9 C1274.8,343.1 1272.6,351.4 1272.8,357.2 C1273.0,363.1 1276.5,361.3 1276.8,367.9 C1277.0,374.4 1274.8,387.3 1274.3,396.7 C1273.9,406.1 1274.5,416.2 1274.0,424.0 C1273.5,431.9 1271.8,440.5 1271.3,443.8" fill="none" stroke="#858585" stroke-width="1.8" stroke-linejoin="round" stroke-linecap="round"/>
<path d="M1333.9,100.6 C1333.5,109.0 1332.3,134.8 1331.4,150.7 C1330.5,166.7 1328.9,180.1 1328.4,196.3 C1327.8,212.5 1328.1,231.2 1328.1,247.9 C1328.0,264.6 1328.7,282.3 1328.1,296.5 C1327.5,310.7 1325.6,320.8 1324.4,332.9 C1323.3,345.1 1322.0,358.8 1321.4,369.4 C1320.8,380.0 1321.1,387.6 1321.1,396.7 C1321.1,405.8 1321.0,416.5 1321.4,424.0 C1321.8,431.6 1323.2,439.2 1323.5,442.3" fill="none" stroke="#858585" stroke-width="1.8" stroke-linejoin="round" stroke-linecap="round"/>
<path d="M1271.0,440.0 C1271.0,445.1 1271.3,461.5 1271.3,470.4 C1271.3,479.2 1271.8,485.0 1271.0,493.1 C1270.2,501.2 1267.5,510.9 1266.7,519.0 C1266.0,527.1 1267.2,532.6 1266.4,541.7 C1265.7,550.8 1263.4,564.8 1262.2,573.6 C1261.0,582.5 1259.5,584.2 1259.2,594.9 C1258.8,605.5 1260.2,622.7 1260.4,637.4 C1260.6,652.1 1260.4,665.2 1260.4,682.9 C1260.4,700.7 1259.9,725.5 1260.4,743.7 C1260.9,761.9 1262.9,784.2 1263.4,792.3" fill="none" stroke="#b0b0b0" stroke-width="2.0" stroke-linejoin="round" stroke-linecap="round"/>
<path d="M1322.6,440.0 C1322.4,445.6 1321.6,463.3 1321.1,473.4 C1320.6,483.5 1320.1,491.6 1319.6,500.7 C1319.1,509.8 1319.0,521.0 1318.1,528.1 C1317.1,535.2 1314.8,533.6 1313.8,543.2 C1312.9,552.9 1313.2,576.1 1312.3,585.8 C1311.4,595.4 1309.0,595.4 1308.7,600.9 C1308.3,606.5 1310.4,610.6 1310.5,619.2 C1310.5,627.8 1309.5,640.4 1309.0,652.6 C1308.4,664.7 1307.9,681.9 1307.4,692.0 C1306.9,702.2 1306.9,704.7 1305.9,713.3 C1305.0,721.9 1302.9,733.6 1301.7,743.7 C1300.5,753.8 1299.3,765.7 1298.6,774.0 C1297.9,782.4 1297.6,790.5 1297.4,793.8" fill="none" stroke="#b0b0b0" stroke-width="2.0" stroke-linejoin="round" stroke-linecap="round"/>
<path d="M1286.2,110.6 C1290.0,111.9 1301.4,116.4 1309.0,117.9 C1316.5,119.5 1327.9,119.5 1331.7,119.8" fill="none" stroke="#f6f6f6" stroke-width="3.0" stroke-linejoin="round" stroke-linecap="round"/>
<path d="M1284.7,194.8 C1288.2,194.9 1298.7,195.7 1305.9,195.7 C1313.1,195.7 1324.1,194.9 1327.8,194.8" fill="none" stroke="#f6f6f6" stroke-width="3.0" stroke-linejoin="round" stroke-linecap="round"/>
<path d="M1280.1,246.4 C1283.9,246.6 1294.9,247.1 1302.9,247.9 C1310.8,248.8 1323.6,250.9 1327.8,251.6" fill="none" stroke="#f6f6f6" stroke-width="3.0" stroke-linejoin="round" stroke-linecap="round"/>
<path d="M1278.0,292.9 C1282.1,293.2 1294.6,294.8 1302.9,295.0 C1311.2,295.1 1323.6,294.0 1327.8,293.8" fill="none" stroke="#f6f6f6" stroke-width="3.0" stroke-linejoin="round" stroke-linecap="round"/>
<path d="M1275.6,332.0 C1279.6,332.1 1291.7,331.9 1299.8,332.3 C1307.9,332.8 1320.1,334.4 1324.1,334.8" fill="none" stroke="#f6f6f6" stroke-width="3.0" stroke-linejoin="round" stroke-linecap="round"/>
<path d="M1277.1,367.9 C1280.9,367.8 1292.5,367.3 1299.8,367.6 C1307.2,367.9 1317.6,369.3 1321.1,369.7" fill="none" stroke="#f6f6f6" stroke-width="3.0" stroke-linejoin="round" stroke-linecap="round"/>
<path d="M1274.0,398.5 C1278.1,398.4 1290.5,397.7 1298.3,397.9 C1306.2,398.2 1317.3,399.7 1321.1,400.1" fill="none" stroke="#f6f6f6" stroke-width="3.0" stroke-linejoin="round" stroke-linecap="round"/>
<path d="M1274.0,424.3 C1278.1,424.1 1290.5,423.4 1298.3,423.1 C1306.2,422.8 1317.3,422.6 1321.1,422.5" fill="none" stroke="#f6f6f6" stroke-width="3.0" stroke-linejoin="round" stroke-linecap="round"/>
<line x1="1271.0" y1="444.6" x2="1321.1" y2="450.6" stroke="#f6f6f6" stroke-width="2.9" stroke-linecap="round"/>
<line x1="1272.5" y1="471.9" x2="1319.6" y2="474.9" stroke="#f6f6f6" stroke-width="2.9" stroke-linecap="round"/>
<line x1="1271.0" y1="493.1" x2="1319.6" y2="496.2" stroke="#f6f6f6" stroke-width="2.9" stroke-linecap="round"/>
<line x1="1268.0" y1="509.8" x2="1318.1" y2="511.4" stroke="#f6f6f6" stroke-width="2.9" stroke-linecap="round"/>
<line x1="1266.4" y1="528.1" x2="1318.1" y2="526.5" stroke="#f6f6f6" stroke-width="2.9" stroke-linecap="round"/>
<line x1="1266.4" y1="541.7" x2="1313.5" y2="547.8" stroke="#f6f6f6" stroke-width="2.9" stroke-linecap="round"/>
<line x1="1263.4" y1="561.5" x2="1312.0" y2="564.5" stroke="#f6f6f6" stroke-width="2.9" stroke-linecap="round"/>
<line x1="1261.9" y1="578.2" x2="1312.0" y2="576.7" stroke="#f6f6f6" stroke-width="2.9" stroke-linecap="round"/>
<line x1="1260.4" y1="593.4" x2="1310.5" y2="588.8" stroke="#f6f6f6" stroke-width="2.9" stroke-linecap="round"/>
<line x1="1260.4" y1="607.0" x2="1309.0" y2="605.5" stroke="#f6f6f6" stroke-width="2.9" stroke-linecap="round"/>
<line x1="1260.4" y1="623.7" x2="1310.5" y2="619.2" stroke="#f6f6f6" stroke-width="2.9" stroke-linecap="round"/>
<line x1="1260.4" y1="637.4" x2="1309.0" y2="637.4" stroke="#f6f6f6" stroke-width="2.9" stroke-linecap="round"/>
<line x1="1260.4" y1="651.1" x2="1309.0" y2="652.6" stroke="#f6f6f6" stroke-width="2.9" stroke-linecap="round"/>
<line x1="1260.4" y1="664.7" x2="1309.0" y2="666.2" stroke="#f6f6f6" stroke-width="2.9" stroke-linecap="round"/>
<line x1="1260.4" y1="687.5" x2="1305.9" y2="690.5" stroke="#f6f6f6" stroke-width="2.9" stroke-linecap="round"/>
<line x1="1260.4" y1="708.8" x2="1305.9" y2="710.3" stroke="#f6f6f6" stroke-width="2.9" stroke-linecap="round"/>
<line x1="1260.4" y1="728.5" x2="1302.9" y2="725.5" stroke="#f6f6f6" stroke-width="2.9" stroke-linecap="round"/>
<line x1="1260.4" y1="749.7" x2="1301.4" y2="746.7" stroke="#f6f6f6" stroke-width="2.9" stroke-linecap="round"/>
<line x1="1261.9" y1="766.5" x2="1305.9" y2="768.0" stroke="#f6f6f6" stroke-width="2.9" stroke-linecap="round"/>
<line x1="1263.4" y1="784.7" x2="1296.8" y2="783.2" stroke="#f6f6f6" stroke-width="2.9" stroke-linecap="round"/>
<line x1="1328.7" y1="220.0" x2="1344.2" y2="219.1" stroke="#f6f6f6" stroke-width="2.9" stroke-linecap="round"/>
<line x1="1327.8" y1="311.7" x2="1344.2" y2="316.2" stroke="#f6f6f6" stroke-width="2.9" stroke-linecap="round"/>
<line x1="1322.6" y1="378.5" x2="1344.2" y2="384.0" stroke="#f6f6f6" stroke-width="2.9" stroke-linecap="round"/>
<line x1="1324.1" y1="443.0" x2="1344.2" y2="450.6" stroke="#f6f6f6" stroke-width="2.9" stroke-linecap="round"/>
<line x1="1321.1" y1="491.6" x2="1344.2" y2="497.7" stroke="#f6f6f6" stroke-width="2.9" stroke-linecap="round"/>
<line x1="1318.1" y1="531.1" x2="1344.2" y2="540.2" stroke="#f6f6f6" stroke-width="2.9" stroke-linecap="round"/>
<line x1="1313.5" y1="555.4" x2="1342.4" y2="556.9" stroke="#f6f6f6" stroke-width="2.9" stroke-linecap="round"/>
<line x1="1313.5" y1="576.7" x2="1342.4" y2="576.7" stroke="#f6f6f6" stroke-width="2.9" stroke-linecap="round"/>
<line x1="1310.5" y1="597.9" x2="1340.8" y2="600.9" stroke="#f6f6f6" stroke-width="2.9" stroke-linecap="round"/>
<line x1="1310.5" y1="622.2" x2="1333.2" y2="628.3" stroke="#f6f6f6" stroke-width="2.9" stroke-linecap="round"/>
<line x1="1252.8" y1="132.5" x2="1278.6" y2="132.5" stroke="#444" stroke-width="2.2" stroke-linecap="round"/>
<line x1="1252.8" y1="177.5" x2="1280.1" y2="177.5" stroke="#777" stroke-width="2.2" stroke-linecap="round"/>
<line x1="1252.8" y1="214.5" x2="1275.6" y2="216.0" stroke="#666" stroke-width="2.2" stroke-linecap="round"/>
<line x1="1252.8" y1="255.5" x2="1275.6" y2="255.5" stroke="#707070" stroke-width="2.2" stroke-linecap="round"/>
<line x1="1251.3" y1="308.0" x2="1275.6" y2="309.3" stroke="#f6f6f6" stroke-width="2.2" stroke-linecap="round"/>
<line x1="1251.3" y1="357.2" x2="1272.5" y2="358.1" stroke="#f6f6f6" stroke-width="2.2" stroke-linecap="round"/>
<line x1="1251.3" y1="407.3" x2="1272.5" y2="405.2" stroke="#f6f6f6" stroke-width="2.2" stroke-linecap="round"/>
<line x1="1251.3" y1="450.0" x2="1269.5" y2="449.1" stroke="#f6f6f6" stroke-width="2.8" stroke-linecap="round"/>
<line x1="1251.3" y1="488.6" x2="1269.5" y2="487.1" stroke="#f6f6f6" stroke-width="2.8" stroke-linecap="round"/>
<line x1="1251.3" y1="519.0" x2="1266.4" y2="518.3" stroke="#f6f6f6" stroke-width="2.8" stroke-linecap="round"/>
<line x1="1251.3" y1="553.9" x2="1261.9" y2="553.0" stroke="#f6f6f6" stroke-width="2.8" stroke-linecap="round"/>
<line x1="1251.3" y1="590.3" x2="1260.4" y2="589.7" stroke="#f6f6f6" stroke-width="2.8" stroke-linecap="round"/>
<line x1="1251.3" y1="615.5" x2="1260.4" y2="614.9" stroke="#f6f6f6" stroke-width="2.8" stroke-linecap="round"/>
<line x1="1251.3" y1="640.4" x2="1260.4" y2="639.8" stroke="#f6f6f6" stroke-width="2.8" stroke-linecap="round"/>
<line x1="1251.3" y1="670.8" x2="1260.4" y2="669.3" stroke="#f6f6f6" stroke-width="2.8" stroke-linecap="round"/>
<line x1="1251.3" y1="699.6" x2="1260.4" y2="698.1" stroke="#f6f6f6" stroke-width="2.8" stroke-linecap="round"/>
<line x1="1251.3" y1="727.0" x2="1260.4" y2="724.8" stroke="#f6f6f6" stroke-width="2.8" stroke-linecap="round"/>
<line x1="1251.3" y1="751.3" x2="1260.4" y2="748.2" stroke="#f6f6f6" stroke-width="2.8" stroke-linecap="round"/>
<line x1="1251.3" y1="777.1" x2="1261.9" y2="775.6" stroke="#f6f6f6" stroke-width="2.8" stroke-linecap="round"/>
<path d="M1334.8,628.3 C1334.9,637.4 1335.3,663.7 1335.7,682.9 C1336.0,702.2 1337.3,728.5 1336.9,743.7 C1336.5,758.9 1333.9,769.0 1333.2,774.0" fill="none" stroke="#6a6a6a" stroke-width="1.6" stroke-linejoin="round" stroke-linecap="round"/>
<path d="M1343.0,585.8 C1343.1,596.9 1343.4,626.3 1343.6,652.6 C1343.8,678.9 1344.1,728.5 1344.2,743.7" fill="none" stroke="#555" stroke-width="1.4" stroke-linejoin="round" stroke-linecap="round"/>
<path d="M1312.0,679.9 C1313.5,680.7 1318.5,682.3 1321.1,684.5 C1323.7,686.6 1326.7,691.3 1327.8,692.7" fill="none" stroke="#cfcfcf" stroke-width="2.0" stroke-linejoin="round" stroke-linecap="round"/>
<path d="M1302.3,742.2 C1303.5,741.6 1307.2,738.9 1309.6,739.1 C1311.9,739.4 1314.6,742.3 1316.5,743.7 C1318.5,745.0 1319.3,744.8 1321.1,747.3 C1322.9,749.8 1326.2,756.9 1327.2,758.9" fill="none" stroke="#9a9a9a" stroke-width="1.8" stroke-linejoin="round" stroke-linecap="round"/>
<path d="M1309.6,746.7 C1309.9,751.3 1311.4,766.5 1311.4,774.0 C1311.4,781.6 1309.9,789.2 1309.6,792.3" fill="none" stroke="#6a6a6a" stroke-width="1.4" stroke-linejoin="round" stroke-linecap="round"/>
<path d="M1321.1,748.2 C1321.6,752.5 1322.6,766.7 1324.1,774.0 C1325.7,781.4 1329.2,789.2 1330.2,792.3" fill="none" stroke="#6a6a6a" stroke-width="1.4" stroke-linejoin="round" stroke-linecap="round"/>
<path d="M1336.3,100.6 L1343.0,99.1" fill="none" stroke="#ddd" stroke-width="2" stroke-linejoin="round" stroke-linecap="round"/>
</g>
</g>
<rect x="1258.5" y="107.0" width="27.0" height="8.6" fill="#fff"/>
<rect x="1543.2" y="104.8" width="99.8" height="691.2" fill="#020202"/>
<g clip-path="url(#cm2)">
<g filter="url(#soft3)" opacity="0.55">
<rect x="1546.0" y="110.0" width="34.0" height="330.0" fill="#3c3c3c"/>
<rect x="1548.0" y="440.0" width="22.0" height="120.0" fill="#2a2a2a"/>
<rect x="1580.0" y="690.0" width="24.0" height="100.0" fill="#383838"/>
</g>
<use href="#walls2" filter="url(#glow)" opacity="0.6"/>
<g id="walls2" filter="url(#soft)">
<path d="M1609.6,108.2 C1609.6,114.3 1609.6,133.0 1609.6,144.7 C1609.7,156.3 1609.8,171.0 1609.9,178.1 C1610.1,185.2 1610.8,184.4 1610.5,187.2 C1610.3,190.0 1608.8,193.5 1608.4,194.8" fill="none" stroke="#f6f6f6" stroke-width="3.0" stroke-linejoin="round" stroke-linecap="round"/>
<path d="M1608.4,194.8 C1608.9,197.6 1610.1,203.7 1611.1,211.5 C1612.2,219.4 1613.6,230.7 1614.8,241.9 C1616.0,253.0 1618.0,269.7 1618.4,278.3 C1618.8,286.9 1618.0,290.0 1617.2,293.5 C1616.4,297.1 1614.4,298.6 1613.9,299.6" fill="none" stroke="#f6f6f6" stroke-width="2.9" stroke-linejoin="round" stroke-linecap="round"/>
<path d="M1613.9,299.6 C1614.7,302.1 1618.1,309.2 1619.0,314.8 C1620.0,320.4 1619.7,326.9 1619.6,333.0 C1619.5,339.1 1619.7,344.9 1618.4,351.2 C1617.1,357.6 1612.9,367.7 1611.7,371.0" fill="none" stroke="#f6f6f6" stroke-width="2.9" stroke-linejoin="round" stroke-linecap="round"/>
<path d="M1611.7,371.0 C1612.8,372.8 1616.5,377.3 1617.8,381.6 C1619.1,385.9 1619.2,391.7 1619.3,396.8 C1619.4,401.9 1619.4,404.9 1618.4,412.0 C1617.5,419.1 1613.7,433.0 1613.6,439.3 C1613.5,445.7 1617.1,448.4 1617.8,450.3" fill="none" stroke="#f6f6f6" stroke-width="2.9" stroke-linejoin="round" stroke-linecap="round"/>
<path d="M1577.7,196.9 C1580.2,197.1 1587.8,198.5 1592.9,198.1 C1598.0,197.8 1605.8,195.4 1608.4,194.8" fill="none" stroke="#f6f6f6" stroke-width="3.0" stroke-linejoin="round" stroke-linecap="round"/>
<path d="M1576.2,296.6 C1579.5,296.7 1589.7,296.7 1595.9,297.2 C1602.2,297.7 1610.9,299.2 1613.9,299.6" fill="none" stroke="#f6f6f6" stroke-width="3.0" stroke-linejoin="round" stroke-linecap="round"/>
<path d="M1573.5,371.3 C1576.7,371.5 1586.5,372.6 1592.9,372.5 C1599.3,372.5 1608.6,371.2 1611.7,371.0" fill="none" stroke="#f6f6f6" stroke-width="3.0" stroke-linejoin="round" stroke-linecap="round"/>
<path d="M1571.6,439.6 C1575.2,439.9 1585.9,441.1 1592.9,441.2 C1599.9,441.2 1610.1,440.1 1613.6,439.9" fill="none" stroke="#f6f6f6" stroke-width="3.0" stroke-linejoin="round" stroke-linecap="round"/>
<line x1="1610.5" y1="182.6" x2="1639.1" y2="179.6" stroke="#f6f6f6" stroke-width="2.7" stroke-linecap="round"/>
<line x1="1618.7" y1="282.0" x2="1639.1" y2="278.3" stroke="#f6f6f6" stroke-width="2.7" stroke-linecap="round"/>
<line x1="1620.2" y1="316.3" x2="1639.1" y2="317.8" stroke="#f6f6f6" stroke-width="2.7" stroke-linecap="round"/>
<line x1="1619.0" y1="348.2" x2="1639.1" y2="350.6" stroke="#f6f6f6" stroke-width="2.7" stroke-linecap="round"/>
<line x1="1619.0" y1="381.0" x2="1639.1" y2="381.6" stroke="#f6f6f6" stroke-width="2.7" stroke-linecap="round"/>
<line x1="1619.0" y1="410.8" x2="1639.1" y2="411.4" stroke="#f6f6f6" stroke-width="2.7" stroke-linecap="round"/>
<path d="M1568.6,111.3 C1568.8,116.8 1568.8,134.6 1569.5,144.7 C1570.3,154.8 1572.0,163.3 1573.2,172.0 C1574.3,180.7 1576.1,184.3 1576.5,196.9 C1576.9,209.6 1575.5,231.4 1575.3,248.0 C1575.0,264.6 1575.3,276.1 1575.0,296.6 C1574.7,317.1 1574.2,354.8 1573.5,371.0 C1572.7,387.2 1570.7,382.3 1570.4,393.8 C1570.1,405.2 1571.7,430.2 1571.6,439.6 C1571.5,449.1 1570.1,448.5 1569.8,450.3" fill="none" stroke="#d0d0d0" stroke-width="2.0" stroke-linejoin="round" stroke-linecap="round"/>
<line x1="1547.9" y1="142.2" x2="1568.6" y2="145.0" stroke="#f6f6f6" stroke-width="2.3" stroke-linecap="round"/>
<path d="M1547.3,223.7 C1547.6,226.2 1547.9,235.2 1549.2,238.8 C1550.4,242.5 1551.4,244.2 1554.9,245.5 C1558.5,246.8 1567.8,246.5 1570.4,246.7" fill="none" stroke="#d8d8d8" stroke-width="2.0" stroke-linejoin="round" stroke-linecap="round"/>
<path d="M1551.6,251.0 C1551.8,254.5 1552.1,266.7 1552.8,272.3 C1553.5,277.8 1552.4,282.1 1555.8,284.4 C1559.3,286.7 1570.5,285.9 1573.5,286.2" fill="none" stroke="#c8c8c8" stroke-width="2.0" stroke-linejoin="round" stroke-linecap="round"/>
<path d="M1553.4,290.5 C1553.4,294.5 1553.0,308.6 1553.4,314.8 C1553.8,321.0 1552.8,325.2 1555.8,327.5 C1558.9,329.9 1569.0,328.6 1571.6,328.8" fill="none" stroke="#c8c8c8" stroke-width="2.0" stroke-linejoin="round" stroke-linecap="round"/>
<path d="M1555.2,333.0 C1555.3,335.5 1555.4,344.1 1555.8,348.2 C1556.2,352.4 1555.2,356.1 1557.7,357.9 C1560.1,359.7 1568.3,358.9 1570.4,359.1" fill="none" stroke="#bdbdbd" stroke-width="1.8" stroke-linejoin="round" stroke-linecap="round"/>
<path d="M1558.0,363.4 C1558.2,368.5 1559.3,383.6 1559.5,393.8 C1559.6,403.9 1559.1,414.7 1558.9,424.1 C1558.7,433.6 1558.4,445.9 1558.3,450.3" fill="none" stroke="#d0d0d0" stroke-width="2.0" stroke-linejoin="round" stroke-linecap="round"/>
<path d="M1547.9,436.3 C1548.9,436.8 1551.9,437.0 1553.4,439.3 C1554.9,441.7 1556.5,448.4 1557.1,450.3" fill="none" stroke="#d8d8d8" stroke-width="2.0" stroke-linejoin="round" stroke-linecap="round"/>
<path d="M1568.6,440.0 C1568.6,446.1 1568.6,464.8 1568.6,476.5 C1568.7,488.1 1568.9,495.7 1568.9,509.9 C1569.0,524.0 1568.2,547.8 1568.9,561.5 C1569.6,575.2 1572.3,579.2 1573.2,591.9 C1574.0,604.5 1573.6,623.3 1574.1,637.4 C1574.6,651.6 1574.8,664.3 1576.2,676.9 C1577.6,689.6 1580.8,701.5 1582.3,713.4 C1583.8,725.3 1584.6,735.2 1585.3,748.3 C1586.1,761.5 1586.6,785.0 1586.8,792.4" fill="none" stroke="#e0e0e0" stroke-width="2.2" stroke-linejoin="round" stroke-linecap="round"/>
<path d="M1617.8,440.0 C1618.0,443.0 1618.9,452.9 1619.0,458.2 C1619.2,463.5 1619.0,464.8 1618.7,471.9 C1618.5,479.0 1618.5,494.2 1617.5,500.8 C1616.5,507.3 1613.7,509.6 1613.0,511.4" fill="none" stroke="#f6f6f6" stroke-width="2.9" stroke-linejoin="round" stroke-linecap="round"/>
<path d="M1613.0,511.4 C1613.8,513.7 1616.8,521.3 1617.8,525.1 C1618.8,528.9 1619.1,530.1 1619.0,534.2 C1618.9,538.2 1618.0,544.8 1617.2,549.4 C1616.4,553.9 1614.9,559.5 1614.5,561.5" fill="none" stroke="#f6f6f6" stroke-width="2.9" stroke-linejoin="round" stroke-linecap="round"/>
<path d="M1614.5,561.5 C1614.9,563.5 1616.7,569.3 1617.2,573.7 C1617.7,578.1 1617.2,585.6 1617.2,587.9" fill="none" stroke="#f6f6f6" stroke-width="2.9" stroke-linejoin="round" stroke-linecap="round"/>
<path d="M1617.2,587.9 C1617.1,590.6 1617.1,599.5 1616.6,604.0 C1616.1,608.5 1614.8,613.1 1614.5,615.0" fill="none" stroke="#f6f6f6" stroke-width="2.9" stroke-linejoin="round" stroke-linecap="round"/>
<path d="M1614.5,615.0 C1615.3,617.2 1618.7,624.6 1619.6,628.3 C1620.6,632.1 1620.5,635.1 1620.2,637.4 C1619.9,639.8 1618.2,641.5 1617.8,642.3" fill="none" stroke="#f6f6f6" stroke-width="2.9" stroke-linejoin="round" stroke-linecap="round"/>
<path d="M1617.8,642.3 C1618.1,644.0 1619.4,648.9 1619.6,652.6 C1619.8,656.4 1619.1,662.8 1619.0,664.8" fill="none" stroke="#f6f6f6" stroke-width="2.9" stroke-linejoin="round" stroke-linecap="round"/>
<path d="M1619.0,664.8 C1619.3,667.3 1620.5,675.9 1620.5,680.0 C1620.6,684.1 1619.5,687.8 1619.3,689.4" fill="none" stroke="#f6f6f6" stroke-width="2.9" stroke-linejoin="round" stroke-linecap="round"/>
<path d="M1619.3,689.4 C1619.5,691.4 1620.8,696.7 1620.2,701.2 C1619.7,705.8 1616.7,714.1 1616.0,716.7" fill="none" stroke="#f6f6f6" stroke-width="2.9" stroke-linejoin="round" stroke-linecap="round"/>
<path d="M1616.0,716.7 C1616.5,719.2 1619.0,726.3 1619.0,731.6 C1619.0,736.9 1616.5,745.8 1616.0,748.6" fill="none" stroke="#f6f6f6" stroke-width="2.9" stroke-linejoin="round" stroke-linecap="round"/>
<path d="M1616.0,748.6 C1616.6,750.3 1618.9,755.5 1619.6,759.0 C1620.4,762.4 1620.4,767.8 1620.5,769.6" fill="none" stroke="#f6f6f6" stroke-width="2.9" stroke-linejoin="round" stroke-linecap="round"/>
<path d="M1569.5,510.5 C1573.4,510.8 1585.7,512.1 1592.9,512.3 C1600.1,512.4 1609.6,511.5 1613.0,511.4" fill="none" stroke="#f6f6f6" stroke-width="3.0" stroke-linejoin="round" stroke-linecap="round"/>
<path d="M1569.5,561.5 C1573.4,561.6 1585.4,562.1 1592.9,562.1 C1600.4,562.1 1610.9,561.6 1614.5,561.5" fill="none" stroke="#f6f6f6" stroke-width="3.0" stroke-linejoin="round" stroke-linecap="round"/>
<path d="M1573.5,589.1 C1577.2,589.1 1588.7,589.0 1595.9,588.8 C1603.2,588.6 1613.7,588.1 1617.2,587.9" fill="none" stroke="#f6f6f6" stroke-width="3.0" stroke-linejoin="round" stroke-linecap="round"/>
<path d="M1573.8,616.5 C1577.2,616.4 1587.6,616.4 1594.4,616.2 C1601.2,615.9 1611.1,615.2 1614.5,615.0" fill="none" stroke="#f6f6f6" stroke-width="3.0" stroke-linejoin="round" stroke-linecap="round"/>
<path d="M1574.7,639.0 C1578.2,639.2 1588.8,639.9 1595.9,640.5 C1603.1,641.0 1614.2,642.0 1617.8,642.3" fill="none" stroke="#f6f6f6" stroke-width="3.0" stroke-linejoin="round" stroke-linecap="round"/>
<path d="M1576.2,663.3 C1579.7,663.4 1590.3,663.9 1597.5,664.2 C1604.6,664.4 1615.4,664.7 1619.0,664.8" fill="none" stroke="#f6f6f6" stroke-width="3.0" stroke-linejoin="round" stroke-linecap="round"/>
<path d="M1577.7,687.6 C1581.3,687.7 1592.0,688.2 1599.0,688.5 C1605.9,688.8 1615.9,689.2 1619.3,689.4" fill="none" stroke="#f6f6f6" stroke-width="3.0" stroke-linejoin="round" stroke-linecap="round"/>
<path d="M1583.8,716.4 C1586.4,716.5 1594.2,717.0 1599.6,717.0 C1605.0,717.1 1613.3,716.8 1616.0,716.7" fill="none" stroke="#f6f6f6" stroke-width="3.0" stroke-linejoin="round" stroke-linecap="round"/>
<path d="M1586.8,748.3 C1589.3,748.4 1596.5,748.9 1601.4,748.9 C1606.3,749.0 1613.6,748.7 1616.0,748.6" fill="none" stroke="#f6f6f6" stroke-width="3.0" stroke-linejoin="round" stroke-linecap="round"/>
<line x1="1619.0" y1="446.1" x2="1639.1" y2="443.0" stroke="#f6f6f6" stroke-width="2.7" stroke-linecap="round"/>
<line x1="1620.2" y1="471.9" x2="1639.1" y2="472.8" stroke="#f6f6f6" stroke-width="2.7" stroke-linecap="round"/>
<line x1="1617.5" y1="500.8" x2="1639.1" y2="502.3" stroke="#f6f6f6" stroke-width="2.7" stroke-linecap="round"/>
<line x1="1619.0" y1="534.2" x2="1639.1" y2="534.8" stroke="#f6f6f6" stroke-width="2.7" stroke-linecap="round"/>
<line x1="1616.0" y1="564.5" x2="1639.1" y2="564.5" stroke="#f6f6f6" stroke-width="2.7" stroke-linecap="round"/>
<line x1="1617.5" y1="590.4" x2="1639.1" y2="591.0" stroke="#f6f6f6" stroke-width="2.7" stroke-linecap="round"/>
<line x1="1617.5" y1="617.7" x2="1639.1" y2="614.7" stroke="#f6f6f6" stroke-width="2.7" stroke-linecap="round"/>
<line x1="1620.5" y1="640.5" x2="1639.1" y2="639.0" stroke="#f6f6f6" stroke-width="2.7" stroke-linecap="round"/>
<line x1="1620.5" y1="651.1" x2="1639.1" y2="651.1" stroke="#f6f6f6" stroke-width="2.7" stroke-linecap="round"/>
<line x1="1620.5" y1="667.8" x2="1639.1" y2="667.2" stroke="#f6f6f6" stroke-width="2.7" stroke-linecap="round"/>
<line x1="1620.5" y1="683.0" x2="1639.1" y2="683.0" stroke="#f6f6f6" stroke-width="2.7" stroke-linecap="round"/>
<line x1="1620.5" y1="699.7" x2="1639.1" y2="699.7" stroke="#f6f6f6" stroke-width="2.7" stroke-linecap="round"/>
<line x1="1617.5" y1="718.3" x2="1639.1" y2="718.9" stroke="#f6f6f6" stroke-width="2.7" stroke-linecap="round"/>
<line x1="1619.0" y1="736.2" x2="1639.1" y2="736.2" stroke="#f6f6f6" stroke-width="2.7" stroke-linecap="round"/>
<line x1="1619.0" y1="754.4" x2="1639.1" y2="754.4" stroke="#f6f6f6" stroke-width="2.7" stroke-linecap="round"/>
<line x1="1620.5" y1="769.6" x2="1639.1" y2="768.1" stroke="#f6f6f6" stroke-width="2.7" stroke-linecap="round"/>
<path d="M1558.0,440.0 C1558.0,445.1 1558.3,460.3 1558.3,470.4 C1558.2,480.5 1558.2,490.6 1557.7,500.8 C1557.1,510.9 1555.0,524.9 1554.9,531.1 C1554.8,537.4 1555.0,537.1 1557.1,538.4 C1559.1,539.7 1565.7,538.9 1567.4,539.0" fill="none" stroke="#e8e8e8" stroke-width="2.2" stroke-linejoin="round" stroke-linecap="round"/>
<path d="M1567.4,539.0 C1567.1,540.0 1565.4,541.1 1565.6,544.8 C1565.8,548.5 1568.1,558.7 1568.6,561.5" fill="none" stroke="#d8d8d8" stroke-width="2.0" stroke-linejoin="round" stroke-linecap="round"/>
<path d="M1557.1,542.7 C1556.5,543.8 1553.9,541.2 1553.4,549.4 C1552.9,557.6 1553.8,574.7 1554.0,591.9 C1554.3,609.1 1553.8,639.4 1554.9,652.6 C1556.1,665.9 1558.6,668.4 1561.0,671.5 C1563.4,674.5 1567.8,671.0 1569.2,670.9" fill="none" stroke="#e8e8e8" stroke-width="2.2" stroke-linejoin="round" stroke-linecap="round"/>
<path d="M1561.3,677.5 C1561.6,683.5 1562.4,699.8 1563.1,713.4 C1563.8,727.0 1564.9,745.8 1565.6,759.0 C1566.3,772.1 1567.1,786.8 1567.4,792.4" fill="none" stroke="#cfcfcf" stroke-width="2.0" stroke-linejoin="round" stroke-linecap="round"/>
<path d="M1578.6,683.0 C1579.0,688.1 1579.9,700.7 1580.8,713.4 C1581.6,726.0 1583.0,745.5 1583.8,759.0 C1584.6,772.4 1585.3,788.1 1585.6,793.9" fill="none" stroke="#9a9a9a" stroke-width="1.6" stroke-linejoin="round" stroke-linecap="round"/>
<path d="M1602.0,749.8 C1602.3,753.9 1603.0,766.8 1603.5,774.1 C1604.0,781.5 1604.8,790.6 1605.1,793.9" fill="none" stroke="#777" stroke-width="1.4" stroke-linejoin="round" stroke-linecap="round"/>
</g>
<g filter="url(#soft)"><ellipse cx="1549.5" cy="775" rx="4.6" ry="7" fill="#fff"/><ellipse cx="1548.5" cy="787" rx="3.4" ry="4" fill="#fff"/></g>
</g>
<rect x="1558.0" y="119.5" width="27.3" height="8.5" fill="#fff"/>
</g>
</svg>
</body></html>
